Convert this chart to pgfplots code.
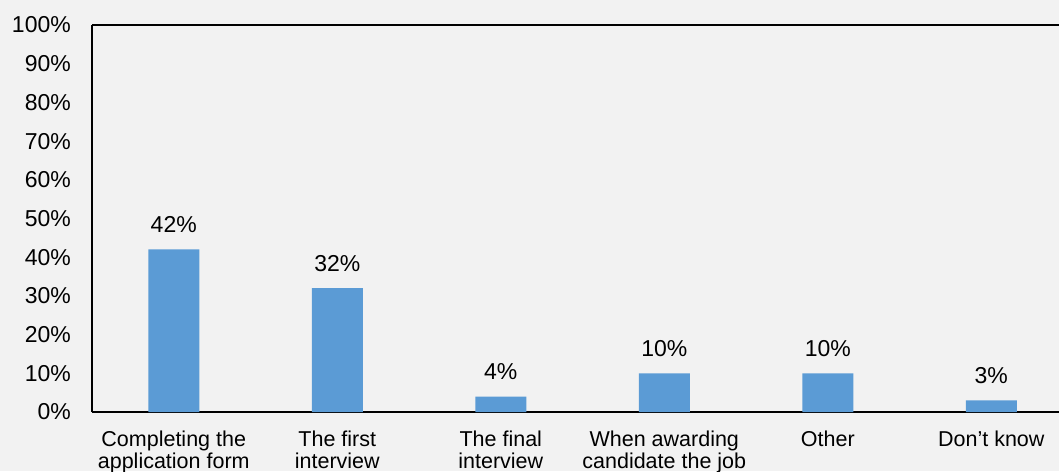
\documentclass[border=0pt]{standalone}
\usepackage{pgfplots}
\pgfplotsset{compat=1.18}
\usepackage{fontspec}
\setmainfont{Liberation Sans}
\definecolor{barblue}{HTML}{5B9BD5}
\definecolor{bggray}{HTML}{F2F2F2}
\begin{document}
\begin{tikzpicture}[font=\fontsize{21.5pt}{22pt}\selectfont]
\fill[bggray] (0,0) rectangle (1059pt,471pt);
\begin{axis}[
  at={(92pt,59pt)}, anchor=south west,
  scale only axis, width=967pt, height=387pt,
  xmin=-0.5, xmax=5.414, ymin=0, ymax=100,
  axis x line*=bottom, axis y line*=left,
  axis line style={black, line width=1.4pt},
  major tick length=0pt,
  ytick={0,10,...,100},
  yticklabel={\pgfmathprintnumber{\tick}\%},
  yticklabel style={inner sep=0pt, xshift=-21pt, font=\fontsize{23pt}{24pt}\selectfont},
  xtick=data,
  xticklabels={{Completing the\\application form},{The first\\interview},{The final\\interview},{When awarding\\candidate the job},{Other},{Don’t know}},
  xticklabel style={align=center, inner sep=0pt, yshift=-18.5pt, font=\fontsize{21.5pt}{22pt}\selectfont},
  /pgf/number format/assume math mode=true,
  ybar, bar width=51pt,
  nodes near coords={\pgfmathprintnumber{\pgfplotspointmeta}\%},
  nodes near coords style={inner sep=0pt, anchor=south, yshift=16.5pt, font=\fontsize{23pt}{24pt}\selectfont, black},
  clip=false,
]
\addplot[fill=barblue, draw=none] coordinates {(0,42) (1,32) (2,4) (3,10) (4,10) (5,3)};
\draw[black, line width=1.4pt] (rel axis cs:0,1) -- (rel axis cs:1,1);
\end{axis}
\pgfresetboundingbox
\useasboundingbox (0,0) rectangle (1059pt,471pt);
\end{tikzpicture}
\end{document}
